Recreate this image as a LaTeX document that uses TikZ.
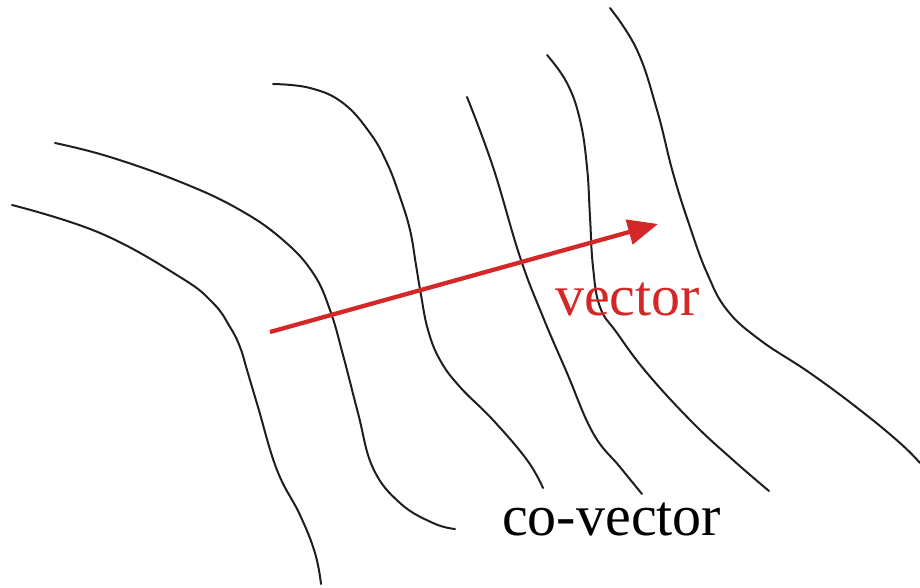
\documentclass[tikz,border=0pt]{standalone}
\usepackage{fontspec}
\setmainfont{Liberation Serif}
\usetikzlibrary{arrows.meta}
\definecolor{vecred}{RGB}{212,40,40}
\definecolor{linegray}{RGB}{30,30,30}
\begin{document}
\begin{tikzpicture}[x=1pt,y=-1pt,
  contour/.style={draw=linegray, line width=2pt, line cap=round},
  bigtext/.style={inner sep=0pt, font=\fontsize{58}{62}\selectfont},
  vecarrow/.style={draw=vecred, line width=4.3pt, -{Triangle[length=30pt,width=25pt]}}]
\useasboundingbox (0,0) rectangle (920,588);
% contour lines (co-vector)
\draw[contour] plot[smooth, tension=0.7] coordinates {(12,205) (100,233) (180,277) (213,303) (230,327) (240,347) (247,370) (258,407) (277,470) (300,515) (315,553) (321,584)};
\draw[contour] plot[smooth, tension=0.7] coordinates {(55,143) (110,157) (183,183) (240,210) (283,240) (313,273) (330,310) (343,355) (358,413) (373,468) (400,503) (433,523) (455,529)};
\draw[contour] plot[smooth, tension=0.7] coordinates {(273,84) (310,88) (343,103) (370,133) (387,163) (400,197) (410,230) (416,265) (421,295) (428,330) (440,360) (460,387) (493,420) (527,460) (543,488)};
\draw[contour] plot[smooth, tension=0.7] coordinates {(467,97) (493,167) (520,257) (543,317) (567,373) (593,433) (620,467) (642,494)};
\draw[contour] plot[smooth, tension=0.7] coordinates {(547,55) (567,83) (580,120) (587,167) (590,217) (593,267) (600,307) (617,333) (647,373) (693,423) (733,460) (769,491)};
\draw[contour] plot[smooth, tension=0.7] coordinates {(610,8) (637,50) (657,110) (673,173) (690,227) (707,273) (727,310) (760,340) (810,373) (860,410) (900,443) (920,463)};
% vector
\coordinate (vs) at (270,332);
\coordinate (ve) at (658,224);
\draw[vecarrow] (vs) -- (ve);
\node[bigtext, text=vecred, anchor=base west] (vlabel) at (555,315) {vector};
\node[bigtext, text=black, anchor=base west] (cvlabel) at (502,535) {co-vector};
\end{tikzpicture}
\end{document}
